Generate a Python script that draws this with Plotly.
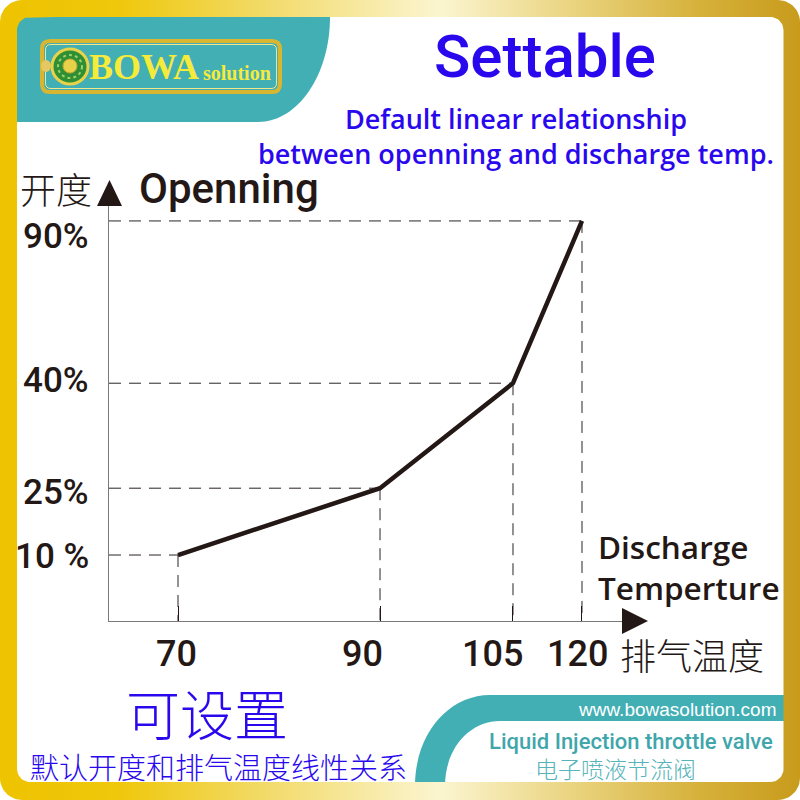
import numpy as np
import plotly.graph_objects as go

# ---------------- data ----------------
temps = [70, 90, 105, 120]                 # discharge temperature
openings = [10, 25, 40, 90]                # valve opening, %
temp_labels = ["70", "90", "105", "120"]
opening_labels = ["10 %", "25%", "40%", "90%"]

# schematic (not-to-scale) axis scale used by the original drawing
temp_scale = {70: 13.45, 90: 52.83, 105: 78.75, 120: 92.2}
opening_scale = {10: 15.9, 25: 32.0, 40: 57.3, 90: 96.4}

# ---------------- styles ----------------
INK = "#231815"
BLUE = "#2A08EE"
TEAL = "#42AFB4"
LATIN = "Roboto"
CJK = "Noto Sans CJK SC"

xs = [temp_scale[t] for t in temps]
ys = [opening_scale[o] for o in openings]

fig = go.Figure()

# ---------- decorative gold frame (ring polygon, page coords) ----------
def rrect(x0, y0, x1, y1, r, n=14):
    px, py = [], []
    corners = [((x1 - r, y0 + r), -90, 0), ((x1 - r, y1 - r), 0, 90),
               ((x0 + r, y1 - r), 90, 180), ((x0 + r, y0 + r), 180, 270)]
    for (cx, cy), a0, a1 in corners:
        for a in np.linspace(np.radians(a0), np.radians(a1), n):
            px.append(cx + r * np.cos(a))
            py.append(cy + r * np.sin(a))
    return px, py

ox, oy = rrect(0, 0, 800, 800, 22)
ix, iy = rrect(17, 17, 783.5, 782, 13)
ix, iy = ix[::-1], iy[::-1]
ring_x = ox + [ox[0]] + ix + [ix[0], ox[0]]
ring_y = oy + [oy[0]] + iy + [iy[0], oy[0]]
fig.add_trace(go.Scatter(
    x=ring_x, y=ring_y, xaxis="x2", yaxis="y2", mode="lines",
    line=dict(width=0), fill="toself",
    fillgradient=dict(type="horizontal", colorscale=[
        [0.0, "#EEC300"], [0.15, "#EFC80C"], [0.33, "#F2DA68"],
        [0.55, "#FBF5D0"], [0.72, "#EAD37E"], [0.88, "#D5B038"],
        [1.0, "#C89B1C"]]),
    hoverinfo="skip", showlegend=False))

# ---------- chart: guide lines ----------
gx, gy = [], []
for x, y in zip(xs, ys):
    gx += [0, x, None, x, x, None]
    gy += [y, y, None, y, 0, None]
fig.add_trace(go.Scatter(x=gx, y=gy, mode="lines",
                         line=dict(color="#2A2422", width=1, dash="12px,8px"),
                         hoverinfo="skip", showlegend=False))

# ---------- chart: relationship line ----------
fig.add_trace(go.Scatter(x=xs, y=ys, mode="lines",
                         line=dict(color=INK, width=4.5),
                         hoverinfo="skip", showlegend=False))

# ---------- shapes (page coords in x2/y2) ----------
k = 0.552
shapes = []
# top-left teal block
shapes.append(dict(type="path", xref="x2", yref="y2", layer="below",
    path=(f"M 14,14 L 330,14 L 330,17 "
          f"C 330,{17 + k * 105} {258 + k * 72},122 258,122 L 14,122 Z"),
    fillcolor=TEAL, line=dict(width=0)))
# bottom-right teal band
shapes.append(dict(type="path", xref="x2", yref="y2", layer="below",
    path=(f"M 415,786 C 415,{782 - k * 87} {490 - k * 75},695 490,695 "
          f"L 786,695 L 786,721 L 500,721 "
          f"C {500 - k * 55},721 445,{782 - k * 61} 445,786 Z"),
    fillcolor=TEAL, line=dict(width=0)))
# logo plate
shapes.append(dict(type="path", xref="x2", yref="y2", layer="below",
    path="M 50,41 L 272,41 Q 280,41 280,49 L 280,84 Q 280,92 272,92 L 50,92 Q 42,92 42,84 L 42,49 Q 42,41 50,41 Z",
    fillcolor=TEAL, line=dict(color="#D9B632", width=4)))
shapes.append(dict(type="path", xref="x2", yref="y2", layer="below",
    path="M 51,44.5 L 271,44.5 Q 276.5,44.5 276.5,50 L 276.5,83 Q 276.5,88.5 271,88.5 L 51,88.5 Q 45.5,88.5 45.5,83 L 45.5,50 Q 45.5,44.5 51,44.5 Z",
    fillcolor="rgba(0,0,0,0)", line=dict(color="#F6E68A", width=1)))
shapes.append(dict(type="circle", xref="x2", yref="y2", layer="below",
    x0=41, y0=60, x1=51, y1=72, fillcolor="#E4C862", line=dict(width=0)))
shapes.append(dict(type="circle", xref="x2", yref="y2", layer="below",
    x0=52, y0=49, x1=88, y1=84, fillcolor="#2F8F34",
    line=dict(color="#E8D24A", width=3)))
shapes.append(dict(type="circle", xref="x2", yref="y2", layer="below",
    x0=58, y0=55, x1=82, y1=78, fillcolor="rgba(0,0,0,0)",
    line=dict(color="#9ED06A", width=2, dash="dot")))
shapes.append(dict(type="circle", xref="x2", yref="y2", layer="below",
    x0=63, y0=59, x1=77, y1=73, fillcolor="#E8D24A",
    line=dict(color="#C9A830", width=1)))
# axis arrowheads
shapes.append(dict(type="path", xref="x2", yref="y2",
    path="M 109.5,180 L 122,206 L 97,206 Z", fillcolor=INK, line=dict(width=0)))
shapes.append(dict(type="path", xref="x2", yref="y2",
    path="M 648,621 L 622,608 L 622,634 Z", fillcolor=INK, line=dict(width=0)))

# ---------- text ----------
ann = []
def txt(x, y, s, size, color=INK, family=LATIN, xanchor="center", weight=None,
        xref="x2", yref="y2", xshift=0, yshift=0, align="center"):
    f = dict(family=family, size=size, color=color)
    if weight is not None:
        f["weight"] = weight
    ann.append(dict(x=x, y=y, xref=xref, yref=yref, text=s, showarrow=False,
                    xanchor=xanchor, yanchor="middle", font=f, align=align,
                    xshift=xshift, yshift=yshift))

txt(545, 56, "Settable", 60, BLUE, weight=500)
txt(516, 136, "Default linear relationship<br>between openning and discharge temp.",
    27, BLUE, family="Open Sans", weight=600)
txt(18, 188, "开度", 36, INK, CJK, xanchor="left", weight=300)
txt(137, 188, "Openning", 42, INK, xanchor="left", weight=500)
txt(596, 567, "Discharge<br>Temperture", 31.5, INK, family="Open Sans",
    xanchor="left", weight=600, align="left")
txt(618, 654, "排气温度", 36, INK, CJK, xanchor="left", weight=300)
txt(207, 712, "可设置", 54, BLUE, CJK, weight=300)
txt(218, 766, "默认开度和排气温度线性关系", 29, BLUE, CJK, weight=300)
txt(778, 709, "www.bowasolution.com", 19, "#FFFFFF", "Liberation Sans", xanchor="right")
txt(631, 741, "Liquid Injection throttle valve", 22, "#3FA6AC", weight=500)
txt(615, 768, "电子喷液节流阀", 23, "#55B3B9", CJK, weight=300)
txt(87, 67, "BOWA", 36, "#F6EA3A", "Liberation Serif", xanchor="left", weight=700)
txt(201, 73, "solution", 20, "#F6EA3A", "Liberation Serif", xanchor="left", weight=700)

# tick labels (placed next to the schematic scale)
x_label_shift = [-2, -18, -20, -4]
for t, lab, sh in zip(temps, temp_labels, x_label_shift):
    txt(temp_scale[t], 654, lab, 36, INK, xref="x", yref="y2", xshift=sh, weight=500)
y_label_shift = [-1, -4, 3, -16]
for o, lab, sh in zip(openings, opening_labels, y_label_shift):
    txt(91, opening_scale[o], lab, 35, INK, xanchor="right", xref="x2", yref="y",
        yshift=sh, weight=500)

fig.update_layout(
    width=800, height=800, margin=dict(l=0, r=0, t=0, b=0),
    paper_bgcolor="white", plot_bgcolor="rgba(0,0,0,0)",
    showlegend=False, shapes=shapes, annotations=ann,
    xaxis=dict(domain=[109 / 800, 622 / 800], range=[0, 100], showgrid=False,
               zeroline=False, showline=True, linecolor="#7A7A7A", linewidth=1.2,
               ticks="inside", ticklen=15, tickwidth=1.2, tickcolor=INK,
               tickvals=xs, showticklabels=False, fixedrange=True),
    yaxis=dict(domain=[(800 - 621) / 800, (800 - 206) / 800], range=[0, 100],
               showgrid=False, zeroline=False, showline=True, linecolor="#7A7A7A",
               linewidth=1.2, showticklabels=False, ticks="", fixedrange=True),
    xaxis2=dict(domain=[0, 1], range=[0, 800], visible=False, anchor="y2", fixedrange=True),
    yaxis2=dict(domain=[0, 1], range=[800, 0], visible=False, anchor="x2", fixedrange=True),
)

fig.write_html("out.html", config={"displayModeBar": False},
               post_script="document.body.style.margin='0';document.body.style.overflow='hidden';")
